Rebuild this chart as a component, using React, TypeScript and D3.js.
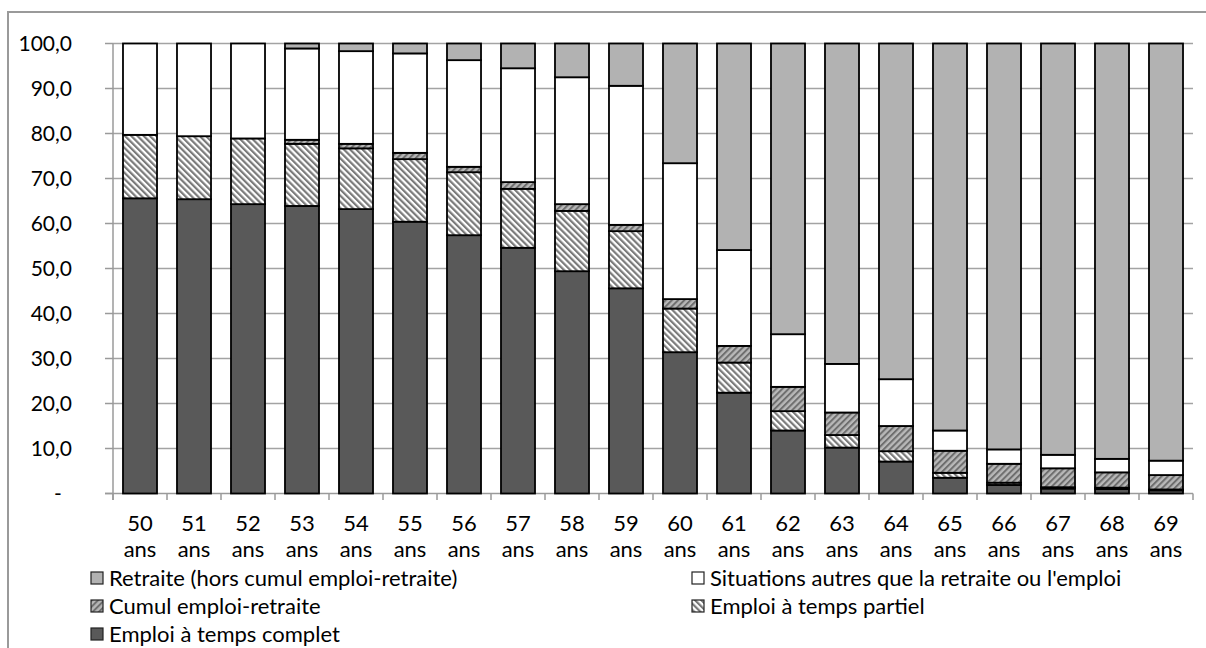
import React from 'react';
import * as d3 from 'd3';

// tranches d'âge (axe des x)
const ages = ['50', '51', '52', '53', '54', '55', '56', '57', '58', '59', '60', '61', '62', '63', '64', '65', '66', '67', '68', '69'];

// parts en %, de bas en haut de la pile
const tempsComplet = [65.6, 65.4, 64.3, 63.9, 63.2, 60.4, 57.4, 54.6, 49.4, 45.6, 31.4, 22.4, 14.0, 10.2, 7.1, 3.5, 1.9, 1.1, 1.0, 0.7];
const tempsPartiel = [14.1, 14.0, 14.6, 13.8, 13.5, 13.9, 14.0, 13.1, 13.4, 12.7, 9.7, 6.7, 4.3, 2.8, 2.3, 1.1, 0.5, 0.3, 0.3, 0.2];
const cumul = [0.0, 0.0, 0.0, 0.9, 1.0, 1.4, 1.2, 1.5, 1.5, 1.4, 2.1, 3.7, 5.4, 5.0, 5.6, 4.9, 4.2, 4.2, 3.4, 3.2];
const autres = [20.3, 20.6, 21.1, 20.3, 20.6, 22.1, 23.7, 25.3, 28.2, 30.9, 30.2, 21.3, 11.7, 10.8, 10.4, 4.5, 3.2, 3.0, 3.0, 3.2];
const retraite = [0.0, 0.0, 0.0, 1.1, 1.7, 2.2, 3.7, 5.5, 7.5, 9.4, 26.6, 45.9, 64.6, 71.2, 74.6, 86.0, 90.2, 91.4, 92.3, 92.7];

const yTicks = [0, 10, 20, 30, 40, 50, 60, 70, 80, 90, 100];

const seriesKeys = ['complet', 'partiel', 'cumul', 'autres', 'retraite'];
const seriesLabels: Record<string, string> = {
  retraite: 'Retraite (hors cumul emploi-retraite)',
  autres: "Situations autres que la retraite ou l'emploi",
  cumul: 'Cumul emploi-retraite',
  partiel: 'Emploi à temps partiel',
  complet: 'Emploi à temps complet',
};
const fills: Record<string, string> = {
  complet: '#595959',
  partiel: 'url(#hatchPartiel)',
  cumul: 'url(#hatchCumul)',
  autres: '#ffffff',
  retraite: '#b2b2b2',
};

const WIDTH = 1206;
const HEIGHT = 648;
const FONT = 'Lato, "Open Sans", sans-serif';
const FS = 22;

export default function App() {
  const rows = ages.map((a, i) => ({
    age: a,
    complet: tempsComplet[i],
    partiel: tempsPartiel[i],
    cumul: cumul[i],
    autres: autres[i],
    retraite: retraite[i],
  }));

  const x = d3.scaleBand<string>()
    .domain(ages)
    .range([113, 1193])
    .paddingInner(0.37)
    .paddingOuter(0.185);

  const y = d3.scaleLinear().domain([0, 100]).range([493.5, 43.5]);

  const stacked = d3.stack<any>().keys(seriesKeys)(rows);

  // bornes des catégories pour les graduations de l'axe x
  const step = x.step();
  const bounds = ages.map((a) => (x(a) as number) - (step - x.bandwidth()) / 2).concat([1193]);

  const legend = [
    { key: 'retraite', col: 0, row: 0 },
    { key: 'autres', col: 1, row: 0 },
    { key: 'cumul', col: 0, row: 1 },
    { key: 'partiel', col: 1, row: 1 },
    { key: 'complet', col: 0, row: 2 },
  ];
  const legendCols = [91, 692];

  return (
    <svg width={WIDTH} height={HEIGHT} style={{ position: 'absolute', left: 0, top: 0, background: '#fff' }}
      fontFamily={FONT}>
      <defs>
        <pattern id="hatchPartiel" patternUnits="userSpaceOnUse" width="4.4" height="4.4" patternTransform="rotate(-45)">
          <rect width="4.4" height="4.4" fill="#ffffff" />
          <rect width="2.2" height="4.4" fill="#7a7a7a" />
        </pattern>
        <pattern id="hatchCumul" patternUnits="userSpaceOnUse" width="4.4" height="4.4" patternTransform="rotate(45)">
          <rect width="4.4" height="4.4" fill="#b8b8b8" />
          <rect width="2.0" height="4.4" fill="#6e6e6e" />
        </pattern>
      </defs>

      <rect x={8} y={12} width={1210} height={660} fill="none" stroke="#9a9a9a" strokeWidth={2} />

      {/* grille */}
      {yTicks.filter((t) => t > 0).map((t) => (
        <line key={'g' + t} x1={113} x2={1193} y1={y(t)} y2={y(t)} stroke="#a3a3a3" strokeWidth={1.5} />
      ))}

      {/* axes */}
      <line x1={113} x2={113} y1={y(100)} y2={500} stroke="#9a9a9a" strokeWidth={1.5} />
      <line x1={105} x2={1193} y1={y(0)} y2={y(0)} stroke="#9a9a9a" strokeWidth={1.5} />
      {yTicks.map((t) => (
        <g key={'yt' + t}>
          <line x1={105} x2={113} y1={y(t)} y2={y(t)} stroke="#9a9a9a" strokeWidth={1.5} />
          <text x={t === 0 ? 58 : 72} y={y(t)} dy="0.36em" textAnchor={t === 0 ? 'middle' : 'end'}
            fontSize={21} fill="#000">
            {t === 0 ? '-' : d3.format('.1f')(t).replace('.', ',')}
          </text>
        </g>
      ))}
      {bounds.map((b, i) => (
        <line key={'xt' + i} x1={b} x2={b} y1={y(0)} y2={500} stroke="#9a9a9a" strokeWidth={1.5} />
      ))}
      {ages.map((a) => {
        const cx = (x(a) as number) + x.bandwidth() / 2;
        return (
          <text key={'xl' + a} x={cx} textAnchor="middle" fontSize={FS} fill="#000">
            <tspan x={cx} y={531}>{a}</tspan>
            <tspan x={cx} y={557}>ans</tspan>
          </text>
        );
      })}

      {/* barres empilées */}
      {stacked.map((s) => (
        <g key={s.key}>
          {s.map((d, i) => {
            const h = y(d[0]) - y(d[1]);
            if (h <= 0) return null;
            return (
              <rect key={i} x={x(ages[i])} y={y(d[1])} width={x.bandwidth()} height={h}
                fill={fills[s.key]} stroke="#000" strokeWidth={1.8} />
            );
          })}
        </g>
      ))}

      {/* légende */}
      {legend.map((l) => {
        const sx = legendCols[l.col];
        const sy = 572 + l.row * 28;
        return (
          <g key={'lg' + l.key}>
            <rect x={sx} y={sy} width={12} height={12} fill={fills[l.key]} stroke="#222" strokeWidth={1.2} />
            <text x={sx + 18} y={sy + 13.5} fontSize={FS} fill="#000">{seriesLabels[l.key]}</text>
          </g>
        );
      })}
    </svg>
  );
}
